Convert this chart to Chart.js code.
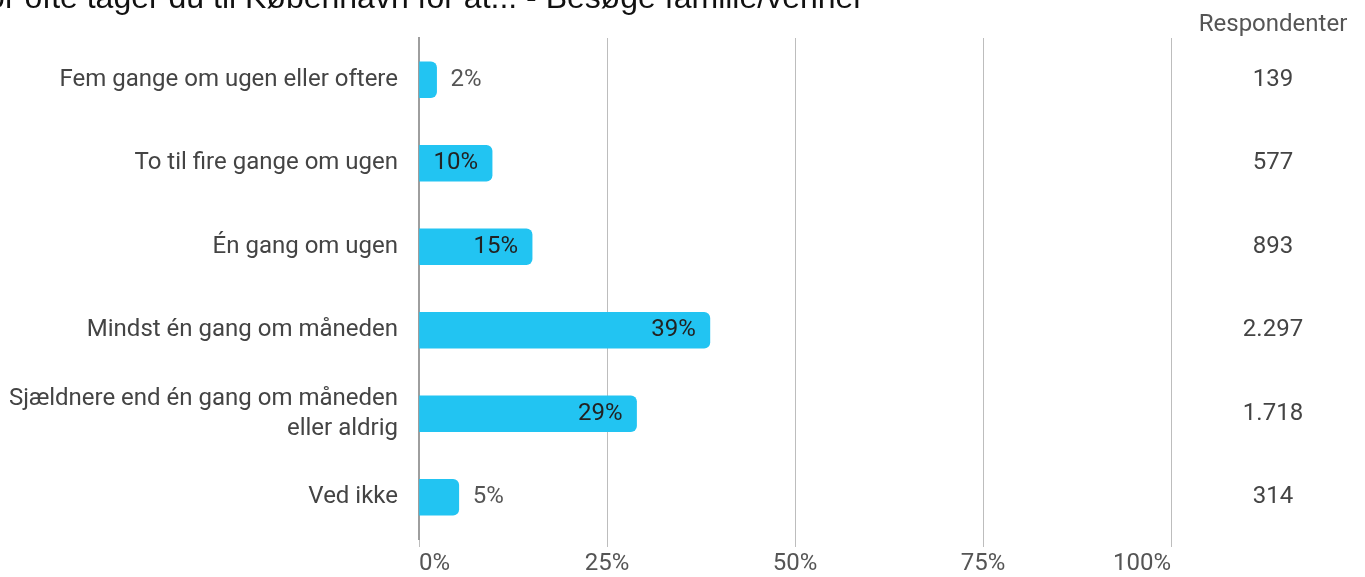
<!DOCTYPE html>
<html>
<head>
<meta charset="utf-8">
<script src="https://cdn.jsdelivr.net/npm/chart.js@4"></script>
<style>
  html, body { margin: 0; padding: 0; background: #fff; }
  #wrap { width: 1365px; height: 577px; position: relative; }
</style>
</head>
<body>
<div id="wrap"><canvas id="chart"></canvas></div>
<script>
'use strict';

var titleText = 'Hvor ofte tager du til København for at... - Besøge familie/venner';
var categories = [
  'Fem gange om ugen eller oftere',
  'To til fire gange om ugen',
  'Én gang om ugen',
  'Mindst én gang om måneden',
  ['Sjældnere end én gang om måneden', 'eller aldrig'],
  'Ved ikke'
];
var percentValues = [2.34, 9.72, 15.04, 38.68, 28.93, 5.29];
var respondents = [139, 577, 893, 2297, 1718, 314];
var xTicks = [0, 25, 50, 75, 100];

var FONT = 'Roboto, "Noto Sans", sans-serif';

function formatDa(n) {
  return String(n).replace(/\B(?=(\d{3})+(?!\d))/g, '.');
}

// title (cut off at the top-left), respondent column and value labels
var extrasPlugin = {
  id: 'extras',
  afterDatasetsDraw: function (chart) {
    var ctx = chart.ctx;
    var meta = chart.getDatasetMeta(0);
    ctx.save();

    ctx.font = '32px "Liberation Sans", Arial, sans-serif';
    ctx.fillStyle = '#111';
    ctx.textAlign = 'right';
    ctx.textBaseline = 'alphabetic';
    ctx.fillText(titleText, 864, 8);

    ctx.font = '24px ' + FONT;
    ctx.textBaseline = 'middle';
    ctx.textAlign = 'center';
    ctx.fillStyle = '#555';
    ctx.fillText('Respondenter', 1273, 25);
    ctx.fillStyle = '#444';
    meta.data.forEach(function (bar, i) {
      ctx.fillText(formatDa(respondents[i]), 1273, bar.y);
    });

    meta.data.forEach(function (bar, i) {
      var label = Math.round(percentValues[i]) + '%';
      var w = ctx.measureText(label).width;
      var barW = bar.x - bar.base;
      if (barW >= w + 20) {
        ctx.textAlign = 'right';
        ctx.fillStyle = '#222';
        ctx.fillText(label, bar.x - 14, bar.y);
      } else {
        ctx.textAlign = 'left';
        ctx.fillStyle = '#555';
        ctx.fillText(label, bar.x + 14, bar.y);
      }
    });
    ctx.restore();
  }
};

var ctx = document.getElementById('chart');
var myChart = new Chart(ctx, {
  type: 'bar',
  data: {
    labels: categories,
    datasets: [{
      data: percentValues,
      backgroundColor: '#22C4F2',
      borderRadius: 6,
      borderSkipped: 'start',
      barThickness: 36
    }]
  },
  options: {
    indexAxis: 'y',
    responsive: true,
    maintainAspectRatio: false,
    animation: false,
    layout: {
      padding: { left: 0, right: 194, top: 38, bottom: 0 }
    },
    plugins: {
      legend: { display: false },
      tooltip: { enabled: false }
    },
    scales: {
      x: {
        min: 0,
        max: 100,
        afterBuildTicks: function (scale) {
          scale.ticks = xTicks.map(function (v) { return { value: v }; });
        },
        afterFit: function (scale) { scale.height = 38; },
        grid: {
          color: '#bdbdbd',
          lineWidth: 1,
          tickLength: 8,
          drawTicks: true
        },
        border: { display: false },
        ticks: {
          align: 'inner',
          padding: 3,
          color: '#555',
          font: { family: FONT, size: 24 },
          callback: function (v) { return v + '%'; }
        }
      },
      y: {
        afterFit: function (scale) { scale.width = 419; },
        grid: { display: false, drawTicks: false },
        border: { display: true, color: '#9e9e9e', width: 2 },
        ticks: {
          padding: 21,
          color: '#444',
          font: { family: FONT, size: 24, lineHeight: 1.25 }
        }
      }
    }
  },
  plugins: [extrasPlugin]
});
</script>
</body>
</html>
